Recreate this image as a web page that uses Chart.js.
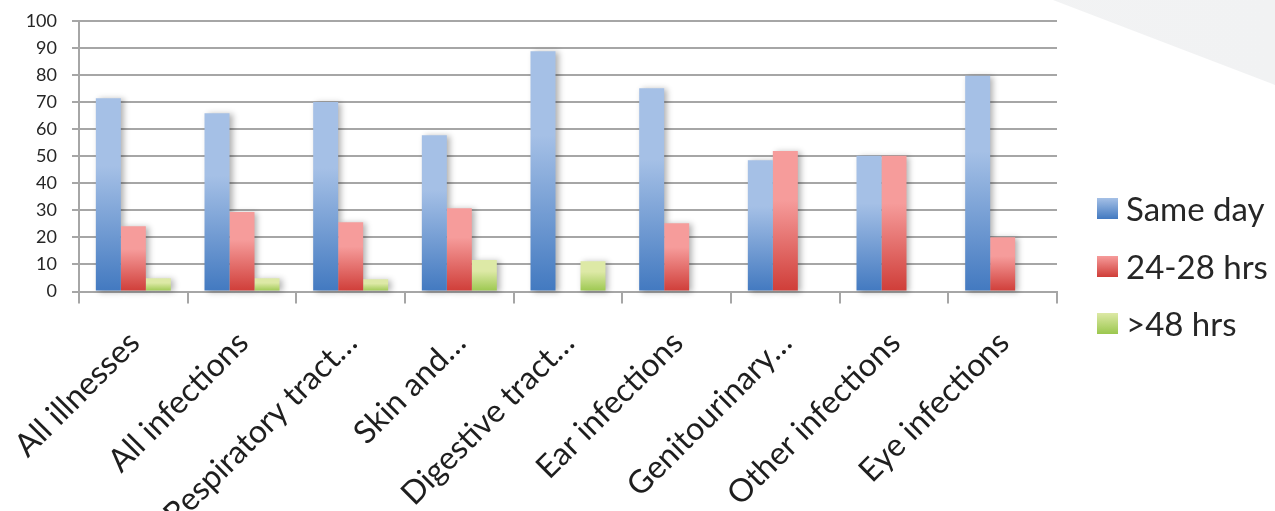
<!DOCTYPE html>
<html>
<head>
<meta charset="utf-8">
<script src="https://cdn.jsdelivr.net/npm/chart.js@4/dist/chart.umd.min.js"></script>
<style>
  html, body { margin: 0; padding: 0; background: #ffffff; }
  #wrap { position: relative; width: 1275px; height: 511px; overflow: hidden; background: #ffffff; }
  #corner { position: absolute; left: 0; top: 0; width: 1275px; height: 511px;
            background: linear-gradient(90deg, #f5f5f6 0%, #f1f2f3 100%);
            clip-path: polygon(1053px 0, 1275px 0, 1275px 85px); }
  #chart { position: absolute; left: 0; top: 0; }
  .item { position: absolute; left: 1097px; height: 21px; display: flex; align-items: center;
          font-family: Lato, "Open Sans", sans-serif; font-size: 33px; color: #262626; white-space: nowrap; }
  .swatch { width: 21px; height: 21px; margin-right: 8px; flex: none; }
</style>
</head>
<body>
<div id="wrap">
  <div id="corner"></div>
  <canvas id="chart" width="1275" height="511"></canvas>
  <div id="legend"></div>
</div>
<script>
// Illness categories along the x axis
const categories = [
  'All illnesses', 'All infections', 'Respiratory tract…', 'Skin and…',
  'Digestive tract…', 'Ear infections', 'Genitourinary…', 'Other infections', 'Eye infections'
];

// Percentages per series
const sameDay   = [71.4, 65.9, 70.1, 57.8, 88.8, 75.1, 48.5, 50.2, 79.8];
const hrs24to28 = [24.1, 29.4, 25.6, 30.8, null, 25.2, 51.9, 50.2, 20.1];
const over48    = [4.9, 4.9, 4.5, 11.6, 11.2, null, null, null, null];

const seriesNames = ['Same day', '24-28 hrs', '>48 hrs'];

// y axis range
const yMin = 0;
const yMax = 100;
const yStep = 10;

// Light-to-dark colour ramps for each series (top, bottom)
const ramps = [
  ['#a5c0e6', '#4279c0'],
  ['#f69c9b', '#cf3d38'],
  ['#dde9a6', '#9bc74e']
];

// Each bar gets its own vertical gradient from its top down to the baseline
function barGradient(ramp) {
  return (ctx) => {
    const chart = ctx.chart;
    if (!chart.chartArea || ctx.type !== 'data' || ctx.parsed == null || ctx.parsed.y == null) {
      return ramp[1];
    }
    const y = chart.scales.y;
    const top = y.getPixelForValue(ctx.parsed.y);
    const base = y.getPixelForValue(0);
    const g = chart.ctx.createLinearGradient(0, top, 0, base);
    g.addColorStop(0, ramp[0]);
    g.addColorStop(0.35, ramp[0]);
    g.addColorStop(1, ramp[1]);
    return g;
  };
}

// Soft drop shadows painted under all bars before the bars themselves
const barShadows = {
  id: 'barShadows',
  beforeDatasetsDraw(chart) {
    const c = chart.ctx;
    const shift = 5000;
    c.save();
    c.shadowColor = 'rgba(0,0,0,0.30)';
    c.shadowBlur = 6;
    c.shadowOffsetX = shift + 3;
    c.shadowOffsetY = 1;
    c.fillStyle = '#000';
    chart.data.datasets.forEach((ds, i) => {
      chart.getDatasetMeta(i).data.forEach((bar, j) => {
        if (ds.data[j] == null) return;
        const h = bar.base - bar.y;
        if (h <= 0) return;
        c.fillRect(bar.x - bar.width / 2 - shift, bar.y, bar.width, h);
      });
    });
    c.restore();
  }
};

const gridColor = '#a6a6a6';

new Chart(document.getElementById('chart'), {
  type: 'bar',
  data: {
    labels: categories,
    datasets: [
      { label: seriesNames[0], data: sameDay,   backgroundColor: barGradient(ramps[0]) },
      { label: seriesNames[1], data: hrs24to28, backgroundColor: barGradient(ramps[1]) },
      { label: seriesNames[2], data: over48,    backgroundColor: barGradient(ramps[2]) }
    ]
  },
  options: {
    responsive: false,
    animation: false,
    devicePixelRatio: 1,
    layout: { padding: { left: 0, right: 218, top: 21, bottom: 0 } },
    datasets: { bar: { categoryPercentage: 0.69, barPercentage: 1.0, borderWidth: 0 } },
    plugins: {
      legend: { display: false },
      tooltip: { enabled: false }
    },
    scales: {
      x: {
        afterFit: (s) => { s.height = 219.5; },
        grid: { drawOnChartArea: false, drawTicks: true, tickLength: 12, color: gridColor, lineWidth: 2, offset: true },
        border: { display: true, color: gridColor, width: 2 },
        ticks: {
          maxRotation: 45, minRotation: 45, autoSkip: false, padding: 0, labelOffset: 1,
          color: '#1e1e1e',
          font: { family: 'Lato, "Open Sans", sans-serif', size: 32, lineHeight: '96px' }
        }
      },
      y: {
        min: yMin, max: yMax,
        afterFit: (s) => { s.width = 79; },
        grid: { color: gridColor, lineWidth: 2, tickLength: 7, drawTicks: true },
        border: { display: true, color: gridColor, width: 2 },
        ticks: {
          stepSize: yStep, padding: 15, color: '#262626',
          font: { family: 'Lato, "Open Sans", sans-serif', size: 18, lineHeight: 0.5 }
        }
      }
    }
  },
  plugins: [barShadows]
});

// Legend: swatches with the same colour ramps as the bars
const legendCenters = [208, 266, 323];
const legend = document.getElementById('legend');
seriesNames.forEach((name, i) => {
  const item = document.createElement('div');
  item.className = 'item';
  item.style.top = (legendCenters[i] - 10.5) + 'px';
  const sw = document.createElement('div');
  sw.className = 'swatch';
  sw.style.background = 'linear-gradient(180deg, ' + ramps[i][0] + ' 0%, ' + ramps[i][1] + ' 100%)';
  const tx = document.createElement('span');
  tx.textContent = name;
  item.appendChild(sw);
  item.appendChild(tx);
  legend.appendChild(item);
});
</script>
</body>
</html>
